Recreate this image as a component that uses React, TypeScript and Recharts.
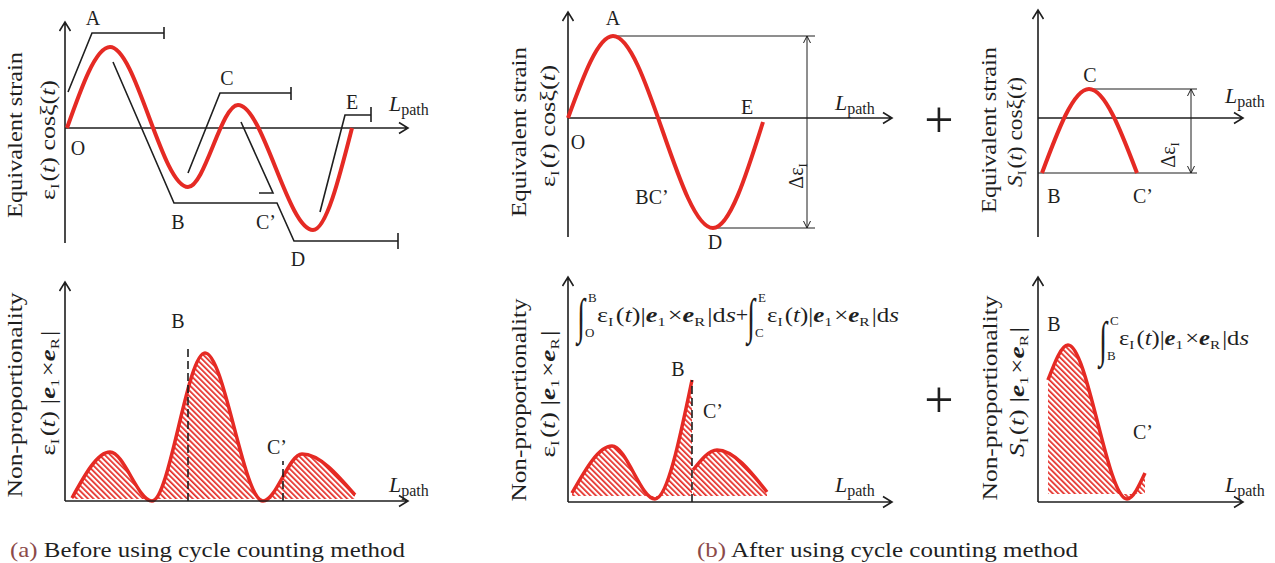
import React from 'react';
import { ComposedChart, Line, Area, XAxis, YAxis, ReferenceLine } from 'recharts';

const RED = '#e52a24';
const INK = '#1f1f1f';
const SERIF = "'Liberation Serif', 'Times New Roman', Times, serif";

// ---------- (a) before cycle counting: strain history O-A-B-C-D-E ----------
const strainPathA = [
  { x: 0.2, y: 0.0 },
  { x: 4.5, y: 0.81 },
  { x: 12.3, y: -0.59 },
  { x: 17.3, y: 0.23 },
  { x: 24.8, y: -1.02 },
  { x: 28.7, y: 0.0 },
];
// rainflow counting lines (black)
const rainOA = [{ x: 0.3, y: 0.36 }, { x: 2.7, y: 0.95 }, { x: 9.9, y: 0.95 }];
const rainAD = [
  { x: 4.8, y: 0.66 }, { x: 10.9, y: -0.75 }, { x: 21.2, y: -0.75 },
  { x: 22.9, y: -1.13 }, { x: 33.3, y: -1.13 },
];
const rainBC = [{ x: 12.3, y: -0.45 }, { x: 15.5, y: 0.35 }, { x: 22.6, y: 0.35 }];
const rainCC = [{ x: 17.6, y: 0.06 }, { x: 20.8, y: -0.65 }, { x: 19.4, y: -0.65 }];
const rainDE = [{ x: 25.5, y: -0.84 }, { x: 28.0, y: 0.13 }, { x: 30.6, y: 0.13 }];
const rainTicks = [
  { x: 9.9, y1: 0.89, y2: 1.01 },
  { x: 33.3, y1: -1.21, y2: -1.05 },
  { x: 22.6, y1: 0.28, y2: 0.41 },
  { x: 30.6, y1: 0.06, y2: 0.21 },
];
// non-proportionality along the path
const nonpropA = [
  { x: 0.7, y: 0.03 }, { x: 4.5, y: 0.49 }, { x: 8.7, y: 0.0 },
  { x: 14.0, y: 1.48 }, { x: 19.8, y: 0.0 }, { x: 23.7, y: 0.47 }, { x: 29.0, y: 0.06 },
];
const cutsA = [
  { x: 12.3, top: 1.54 },
  { x: 21.8, top: 0.4 },
];

// ---------- (b) after cycle counting: main cycle O-A-D-E ----------
const strainPathB = [
  { x: 0.0, y: 0.0 }, { x: 4.5, y: 0.82 }, { x: 14.5, y: -1.1 }, { x: 19.5, y: -0.04 },
];
const rangeB = { xA: 4.5, xD: 14.5, xEnd: 24.7, xArrow: 23.9, top: 0.82, bottom: -1.1 };
const nonpropB1 = [
  { x: 0.4, y: 0.09 }, { x: 4.4, y: 0.56 }, { x: 8.7, y: 0.03 }, { x: 12.4, y: 1.22 },
];
const nonpropB2 = [{ x: 12.5, y: 0.32 }, { x: 14.9, y: 0.52 }, { x: 19.9, y: 0.1 }];
const cutB = { x: 12.4, top: 1.22 };

// ---------- (b) sub-cycle B-C-C' ----------
const strainPathC = [{ x: 0.4, y: -0.55 }, { x: 5.1, y: 0.29 }, { x: 9.9, y: -0.55 }];
const rangeC = { xC: 5.1, xEnd: 15.9, xArrow: 15.3, top: 0.29, bottom: -0.55 };
const nonpropC = [
  { x: 1.0, y: 1.22 }, { x: 3.0, y: 1.57 }, { x: 8.9, y: 0.03 }, { x: 10.7, y: 0.29 },
];

const PX_X = 10;
const PX_Y = 100;

function chevron(tx: number, ty: number, ang: number, len: number, half: number) {
  const bx = tx - len * Math.cos(ang);
  const by = ty - len * Math.sin(ang);
  const px = -Math.sin(ang) * half;
  const py = Math.cos(ang) * half;
  return `M${bx + px},${by + py}L${tx},${ty}L${bx - px},${by - py}`;
}
const makeArrow = (both: boolean, len: number, half: number, w: number) => (p: any) => {
  const { x1, y1, x2, y2 } = p;
  const a = Math.atan2(y2 - y1, x2 - x1);
  let d = `M${x1},${y1}L${x2},${y2}` + chevron(x2, y2, a, len, half);
  if (both) d += chevron(x1, y1, a + Math.PI, len, half);
  return <path d={d} fill="none" stroke={INK} strokeWidth={w} />;
};
const AxisArrow = makeArrow(false, 9, 5.5, 1.6);
const DimArrow = makeArrow(true, 7, 3.5, 1);

function Panel(props: any) {
  const { left, top, width, height, ox, oy, id, children } = props;
  const xDomain = [(left - ox) / PX_X, (left + width - ox) / PX_X];
  const yDomain = [(oy - top - height) / PX_Y, (oy - top) / PX_Y];
  return (
    <div style={{ position: 'absolute', left, top, width, height }}>
      <ComposedChart width={width} height={height} margin={{ top: 0, right: 0, bottom: 0, left: 0 }}>
        <defs>
          <pattern id={id} patternUnits="userSpaceOnUse" width={3.9} height={10} patternTransform="rotate(-45)">
            <rect x={0} y={0} width={1.7} height={10} fill={RED} />
          </pattern>
        </defs>
        <XAxis type="number" dataKey="x" domain={xDomain} allowDataOverflow hide height={0} />
        <YAxis type="number" dataKey="y" domain={yDomain} allowDataOverflow hide width={0} />
        {children}
      </ComposedChart>
    </div>
  );
}

const axisLines = (xMax: number, yMin: number, yMax: number, xAxisY: number) => [
  <ReferenceLine key="ya" segment={[{ x: 0, y: yMin }, { x: 0, y: yMax }]} shape={AxisArrow} ifOverflow="visible" />,
  <ReferenceLine key="xa" segment={[{ x: 0, y: xAxisY }, { x: xMax, y: xAxisY }]} shape={AxisArrow} ifOverflow="visible" />,
];

const seg = (k: string, x1: number, y1: number, x2: number, y2: number, extra: any = {}) => (
  <ReferenceLine key={k} segment={[{ x: x1, y: y1 }, { x: x2, y: y2 }]} stroke={INK} strokeWidth={1} ifOverflow="visible" {...extra} />
);

const blackLine = (k: string, data: any[]) => (
  <Line key={k} data={data} dataKey="y" type="linear" stroke={INK} strokeWidth={1.6} dot={false} activeDot={false} isAnimationActive={false} />
);
const redLine = (k: string, data: any[]) => (
  <Line key={k} data={data} dataKey="y" type="monotone" stroke={RED} strokeWidth={4} dot={false} activeDot={false} isAnimationActive={false} />
);
const hatchArea = (k: string, data: any[], id: string, base = 0) => (
  <Area key={k} data={data} dataKey="y" type="monotone" stroke={RED} strokeWidth={3.5} fill={`url(#${id})`} fillOpacity={1} baseValue={base} dot={false} activeDot={false} isAnimationActive={false} />
);

// ---------- text helpers ----------
const T = (p: any) => {
  const { x, y, size = 20, anchor = 'middle', children, ...rest } = p;
  return (
    <text x={x} y={y} fontSize={size} textAnchor={anchor} fontFamily={SERIF} fill={INK} {...rest}>
      {children}
    </text>
  );
};
const Lpath = ({ x, y }: any) => (
  <text x={x} y={y} fontFamily={SERIF} fontSize={22} fill={INK}>
    <tspan fontStyle="italic">L</tspan>
    <tspan fontSize={16} dy={4}>path</tspan>
  </text>
);
const VText = (p: any) => {
  const { x, y, len, size = 21, children } = p;
  return (
    <text transform={`translate(${x},${y}) rotate(-90)`} textAnchor="middle" fontFamily={SERIF} fontSize={size} fill={INK}
      {...(len ? { textLength: len, lengthAdjust: 'spacingAndGlyphs' } : {})}>
      {children}
    </text>
  );
};
const Sub = ({ c, s = 13 }: any) => (
  <>
    <tspan fontSize={s} dy={4}>{c}</tspan>
    <tspan dy={-4}>{'\u200A'}</tspan>
  </>
);
const EpsT = ({ S }: any) => (
  <>
    {S ? <tspan fontStyle="italic">S</tspan> : 'ε'}
    <Sub c="I" />(<tspan fontStyle="italic">t</tspan>)
  </>
);
const Cross = () => (
  <>
    |<tspan fontWeight="bold" fontStyle="italic">e</tspan>
    <Sub c="1" />×<tspan fontWeight="bold" fontStyle="italic">e</tspan>
    <Sub c="R" />|
  </>
);
const CosXi = () => (
  <>
    {' cosξ('}<tspan fontStyle="italic">t</tspan>)
  </>
);
const DeltaEps = ({ x, y }: any) => (
  <text transform={`translate(${x},${y}) rotate(-90)`} textAnchor="middle" fontFamily={SERIF} fontSize={20} fill={INK}>
    Δε<Sub c="I" />
  </text>
);
const IntTerm = ({ x, y, lo, hi, len }: any) => (
  <g>
    <text transform={`translate(${x},${y + 11}) scale(0.85,1.45)`} fontFamily={SERIF} fontSize={34} fill={INK}>∫</text>
    <text x={x + 11} y={y - 20} fontFamily={SERIF} fontSize={13} fill={INK}>{hi}</text>
    <text x={x + 8} y={y + 15} fontFamily={SERIF} fontSize={13} fill={INK}>{lo}</text>
    <text x={x + 20} y={y} fontFamily={SERIF} fontSize={21} fill={INK} textLength={len} lengthAdjust="spacingAndGlyphs">
      ε<Sub c="I" />(<tspan fontStyle="italic">t</tspan>)<Cross />d<tspan fontStyle="italic">s</tspan>
    </text>
  </g>
);

export default function App() {
  return (
    <div style={{ position: 'absolute', left: 0, top: 0, width: 1275, height: 563, background: '#fff', overflow: 'hidden' }}>
      {/* (a) top */}
      <Panel left={40} top={0} width={390} height={270} ox={65} oy={128} id="hA1">
        {axisLines(34.3, -1.15, 1.06, 0)}
        {blackLine('oa', rainOA)}
        {blackLine('ad', rainAD)}
        {blackLine('bc', rainBC)}
        {blackLine('cc', rainCC)}
        {blackLine('de', rainDE)}
        {rainTicks.map((t, i) => seg('t' + i, t.x, t.y1, t.x, t.y2, { strokeWidth: 1.6 }))}
        {redLine('sa', strainPathA)}
      </Panel>
      {/* (a) bottom */}
      <Panel left={40} top={270} width={390} height={245} ox={65} oy={501} id="hA2">
        {hatchArea('na', nonpropA, 'hA2', 0.02)}
        {cutsA.map((c, i) => seg('c' + i, c.x, 0, c.x, c.top, { strokeWidth: 1.6, strokeDasharray: '8 4' }))}
        {axisLines(34.3, 0, 2.19, 0)}
      </Panel>
      {/* (b) top main cycle */}
      <Panel left={540} top={0} width={370} height={270} ox={568} oy={118} id="hB1">
        {axisLines(32.4, -1.19, 1.06, 0)}
        {seg('r1', rangeB.xA, rangeB.top, rangeB.xEnd, rangeB.top)}
        {seg('r2', rangeB.xD, rangeB.bottom, rangeB.xEnd, rangeB.bottom)}
        <ReferenceLine segment={[{ x: rangeB.xArrow, y: rangeB.top }, { x: rangeB.xArrow, y: rangeB.bottom }]} shape={DimArrow} ifOverflow="visible" />
        {redLine('sb', strainPathB)}
      </Panel>
      {/* (b) bottom main cycle */}
      <Panel left={540} top={270} width={370} height={245} ox={568} oy={502} id="hB2">
        {hatchArea('nb1', nonpropB1, 'hB2', 0.06)}
        {hatchArea('nb2', nonpropB2, 'hB2', 0.06)}
        {seg('cb', cutB.x, 0, cutB.x, cutB.top, { strokeWidth: 1.6, strokeDasharray: '8 4' })}
        {axisLines(32.4, 0, 2.25, 0)}
      </Panel>
      {/* (b) top sub-cycle */}
      <Panel left={1010} top={0} width={265} height={270} ox={1038} oy={118} id="hC1">
        {axisLines(20.5, -1.19, 1.08, 0)}
        {seg('r3', rangeC.xC, rangeC.top, rangeC.xEnd, rangeC.top)}
        {seg('r4', 0, rangeC.bottom, rangeC.xEnd, rangeC.bottom)}
        <ReferenceLine segment={[{ x: rangeC.xArrow, y: rangeC.top }, { x: rangeC.xArrow, y: rangeC.bottom }]} shape={DimArrow} ifOverflow="visible" />
        {redLine('sc', strainPathC)}
      </Panel>
      {/* (b) bottom sub-cycle */}
      <Panel left={1010} top={270} width={265} height={245} ox={1038} oy={502} id="hC2">
        {hatchArea('nc', nonpropC, 'hC2', 0.08)}
        {axisLines(20.5, 0, 2.25, 0)}
      </Panel>

      <svg width={1275} height={563} style={{ position: 'absolute', left: 0, top: 0, pointerEvents: 'none' }}>
        {/* (a) top labels */}
        <T x={93} y={25}>A</T>
        <T x={227} y={85}>C</T>
        <T x={352} y={109}>E</T>
        <T x={78} y={155}>O</T>
        <T x={178} y={229}>B</T>
        <T x={266} y={229}>C’</T>
        <T x={298} y={266}>D</T>
        <Lpath x={389} y={111} />
        <VText x={22} y={135} len={166}>Equivalent strain</VText>
        <VText x={55} y={140} len={120}><EpsT /><CosXi /></VText>
        {/* (a) bottom labels */}
        <T x={178} y={328}>B</T>
        <T x={277} y={454}>C’</T>
        <Lpath x={389} y={492} />
        <VText x={22} y={395} len={205}>Non-proportionality</VText>
        <VText x={55} y={393} len={125}><EpsT /> <Cross /></VText>

        {/* (b) main cycle top */}
        <T x={613} y={25}>A</T>
        <T x={578} y={149}>O</T>
        <T x={747} y={114}>E</T>
        <T x={652} y={204}>BC’</T>
        <T x={715} y={249}>D</T>
        <Lpath x={835} y={110} />
        <DeltaEps x={803} y={175} />
        <VText x={526} y={132} len={170}>Equivalent strain</VText>
        <VText x={555} y={126} len={122}><EpsT /><CosXi /></VText>
        {/* (b) main cycle bottom */}
        <T x={678} y={376}>B</T>
        <T x={713} y={418}>C’</T>
        <Lpath x={835} y={492} />
        <IntTerm x={577} y={322} lo="O" hi="B" len={139} />
        <T x={742} y={322} size={22}>+</T>
        <IntTerm x={747} y={322} lo="C" hi="E" len={132} />
        <VText x={526} y={400} len={203}>Non-proportionality</VText>
        <VText x={555} y={394} len={127}><EpsT /> <Cross /></VText>

        {/* (b) sub-cycle top */}
        <T x={939} y={137} size={52}>+</T>
        <T x={1090} y={82}>C</T>
        <T x={1054} y={203}>B</T>
        <T x={1143} y={203}>C’</T>
        <Lpath x={1225} y={103} />
        <DeltaEps x={1175} y={154} />
        <VText x={996} y={130} len={166}>Equivalent strain</VText>
        <VText x={1022} y={132} len={110}><EpsT S /><CosXi /></VText>
        {/* (b) sub-cycle bottom */}
        <T x={939} y={417} size={52}>+</T>
        <T x={1054} y={331}>B</T>
        <T x={1143} y={439}>C’</T>
        <Lpath x={1225} y={492} />
        <IntTerm x={1099} y={345} lo="B" hi="C" len={130} />
        <VText x={997} y={398} len={205}>Non-proportionality</VText>
        <VText x={1024} y={392} len={130}><EpsT S /> <Cross /></VText>

        {/* captions */}
        <text x={10} y={557} fontFamily={SERIF} fontSize={22} fill={INK} textLength={395} lengthAdjust="spacingAndGlyphs">
          <tspan fill="#8c4a4a">(a)</tspan> Before using cycle counting method
        </text>
        <text x={697} y={557} fontFamily={SERIF} fontSize={22} fill={INK} textLength={381} lengthAdjust="spacingAndGlyphs">
          <tspan fill="#8c4a4a">(b)</tspan> After using cycle counting method
        </text>
      </svg>
    </div>
  );
}
